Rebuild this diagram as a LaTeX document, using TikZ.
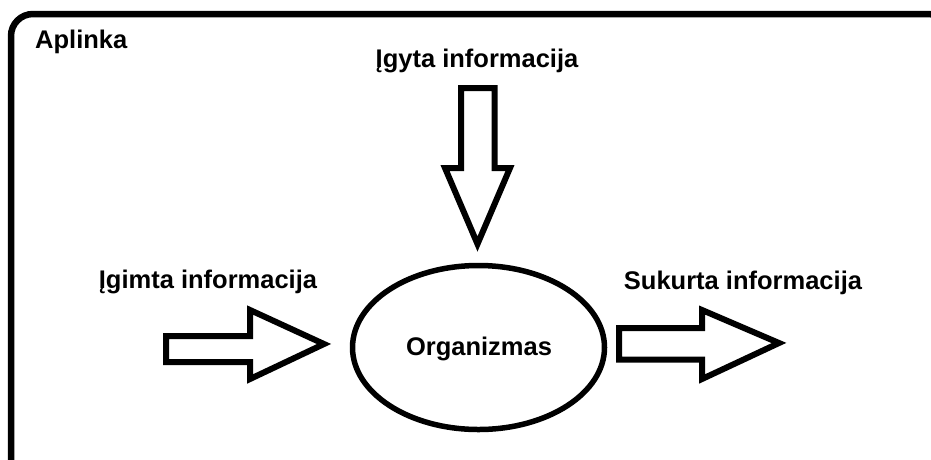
\documentclass[tikz,border=0pt]{standalone}
\usepackage{fontspec}
\setmainfont{Liberation Sans}
\usetikzlibrary{shapes.geometric}
\begin{document}
\begin{tikzpicture}[x=1pt,y=-1pt,
  lbl/.style={inner sep=0pt, anchor=base, font=\fontsize{25.5}{30}\selectfont\bfseries},
  bigarrow/.style={draw, line width=6pt, line join=miter},
  frame/.style={draw, line width=6.5pt, rounded corners=22pt}]
\useasboundingbox (0,0) rectangle (931,459);
\begin{scope}
\clip (0,0) rectangle (931,459);
\path[frame] (11,14) rectangle (950,520);
\end{scope}
% labels
\node[lbl, anchor=base west] (aplinka) at (35,48) {Aplinka};
\node[lbl] (igyta) at (477,67) {Įgyta informacija};
\node[lbl] (igimta) at (208,288) {Įgimta informacija};
\node[lbl] (sukurta) at (743,289) {Sukurta informacija};
% organism
\node[draw, ellipse, line width=5.5pt, inner sep=0pt, minimum width=252pt, minimum height=164pt] (org) at (478.5,347.5) {};
\node[lbl] (orgtext) at (479,355) {Organizmas};
% arrows
\path[bigarrow] (461,88) -- (494.5,88) -- (494.5,168) -- (510,168) -- (477.5,244) -- (445,168) -- (461,168) -- cycle;
\path[bigarrow] (166,336) -- (250,336) -- (250,310) -- (324,344) -- (250,379) -- (250,362) -- (166,362) -- cycle;
\path[bigarrow] (619,328) -- (702,328) -- (702,310) -- (779,343) -- (702,379) -- (702,359.5) -- (619,359.5) -- cycle;
\end{tikzpicture}
\end{document}
